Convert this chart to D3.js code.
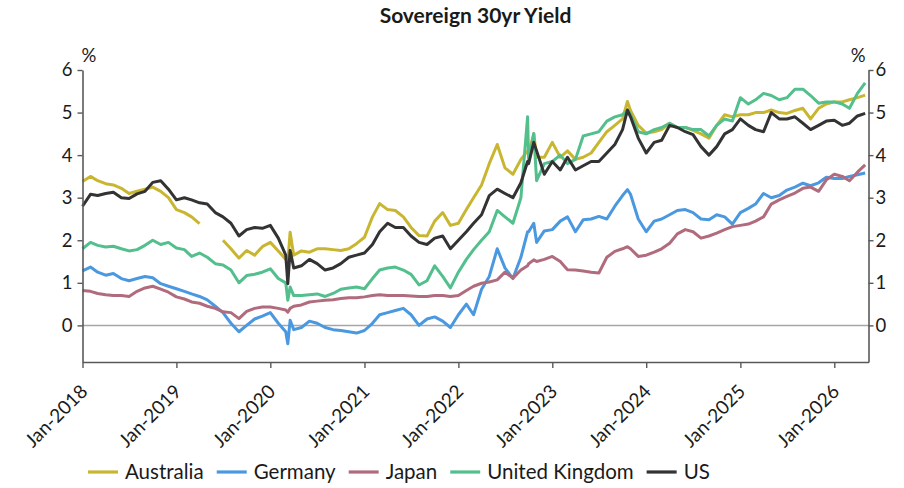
<!DOCTYPE html>
<html><head><meta charset="utf-8">
<script src="https://cdn.jsdelivr.net/npm/d3@7"></script>
<style>
body{margin:0;background:#fff}
svg{display:block}
text{font-family:Lato,"Open Sans",sans-serif;fill:#1a1a1a}
</style>
</head><body>
<svg id="chart" width="904" height="488"></svg>
<script>
// ---------------- data ----------------
const seriesNames = ["Australia", "Germany", "Japan", "United Kingdom", "US"];
const seriesColors = ["#c9b630", "#4a98e0", "#b06b7d", "#52bf8d", "#333333"];
const yTicks = [0, 1, 2, 3, 4, 5, 6];
const xTickYears = [2018, 2019, 2020, 2021, 2022, 2023, 2024, 2025, 2026];
// monthly observations: first of month, Jan-2018 .. May-2026 (101 points)
const firstMonth = "2018-01-01";
const monthCount = 101;
// extra intra-month observations around market spikes
const eventDates = ["2020-03-09", "2020-03-18", "2022-09-27", "2022-10-21", "2023-10-20"];

const australia = [3.38,3.50,3.40,3.33,3.30,3.22,3.10,3.15,3.20,3.25,
  3.15,3.00,2.72,2.65,2.55,2.39,null,null,2.00,1.80,
  1.58,1.76,1.65,1.85,1.95,1.75,1.55,1.65,1.75,1.72,
  1.80,1.80,1.78,1.76,1.80,1.92,2.07,2.55,2.86,2.72,
  2.70,2.55,2.30,2.11,2.10,2.45,2.65,2.35,2.40,2.72,
  3.00,3.30,3.80,4.25,3.70,3.55,3.90,4.05,3.95,3.95,
  4.30,3.95,4.10,3.90,3.95,4.05,4.30,4.55,4.70,4.85,
  5.05,4.70,4.52,4.55,4.60,4.75,4.65,4.65,4.58,4.50,
  4.40,4.70,4.95,4.90,4.95,4.95,5.00,5.00,5.06,5.00,
  4.98,5.05,5.10,4.85,5.10,5.20,5.25,5.25,5.30,5.35,5.41];
const australiaEvents = [1.50, 2.19, 4.10, 4.50, 5.26];

const germany = [1.28,1.37,1.25,1.18,1.22,1.10,1.05,1.10,1.15,1.12,
  0.98,0.92,0.86,0.80,0.74,0.68,0.60,0.45,0.30,0.05,
  -0.15,0.00,0.15,0.22,0.30,0.05,-0.15,-0.10,-0.05,0.10,
  0.05,-0.05,-0.10,-0.12,-0.15,-0.18,-0.12,0.05,0.25,0.30,
  0.35,0.40,0.25,0.00,0.15,0.20,0.10,-0.05,0.25,0.50,
  0.25,0.85,1.15,1.80,1.35,1.10,1.60,2.20,1.95,2.22,
  2.25,2.45,2.55,2.20,2.48,2.50,2.56,2.50,2.80,3.05,
  3.08,2.50,2.20,2.45,2.50,2.60,2.70,2.72,2.65,2.50,
  2.48,2.60,2.55,2.38,2.65,2.75,2.85,3.10,3.00,3.05,
  3.18,3.25,3.34,3.28,3.35,3.48,3.45,3.45,3.50,3.54,3.58];
const germanyEvents = [-0.43, 0.12, 2.20, 2.40, 3.19];

const japan = [0.82,0.80,0.75,0.72,0.70,0.70,0.68,0.80,0.88,0.92,
  0.85,0.78,0.67,0.62,0.55,0.52,0.45,0.40,0.32,0.30,
  0.16,0.33,0.40,0.43,0.43,0.40,0.36,0.45,0.48,0.55,
  0.57,0.59,0.60,0.63,0.65,0.65,0.67,0.70,0.72,0.70,
  0.70,0.70,0.69,0.68,0.68,0.70,0.70,0.68,0.70,0.82,
  0.92,0.99,1.02,1.07,1.25,1.11,1.30,1.45,1.50,1.55,
  1.62,1.50,1.31,1.30,1.28,1.25,1.23,1.60,1.74,1.80,
  1.80,1.62,1.65,1.72,1.80,1.93,2.15,2.25,2.20,2.05,
  2.10,2.17,2.25,2.32,2.35,2.38,2.45,2.55,2.85,2.95,
  3.03,3.11,3.22,3.25,3.15,3.42,3.55,3.50,3.40,3.60,3.77];
const japanEvents = [0.31, 0.40, 1.40, 1.54, 1.85];

const unitedKingdom = [1.80,1.95,1.88,1.84,1.86,1.80,1.75,1.78,1.88,2.00,
  1.90,1.95,1.82,1.78,1.62,1.70,1.60,1.45,1.42,1.30,
  1.00,1.17,1.20,1.25,1.33,1.10,1.00,0.70,0.70,0.72,
  0.74,0.68,0.75,0.85,0.88,0.90,0.86,1.10,1.30,1.35,
  1.37,1.30,1.20,0.95,1.05,1.40,1.15,0.88,1.25,1.55,
  1.78,2.00,2.20,2.70,2.55,2.40,3.00,3.85,3.40,3.80,
  3.85,4.00,3.80,3.90,4.45,4.50,4.55,4.80,4.90,4.95,
  4.95,4.55,4.50,4.60,4.65,4.75,4.65,4.65,4.60,4.60,
  4.45,4.70,4.85,4.80,5.35,5.20,5.30,5.45,5.40,5.30,
  5.35,5.55,5.55,5.40,5.22,5.25,5.25,5.20,5.10,5.45,5.70];
const unitedKingdomEvents = [0.59, 0.90, 4.90, 4.51, 5.06];

const us = [2.80,3.08,3.05,3.10,3.13,3.00,2.98,3.09,3.15,3.36,
  3.40,3.20,2.95,3.00,2.95,2.88,2.85,2.65,2.55,2.40,
  2.10,2.25,2.30,2.28,2.35,2.05,1.65,1.35,1.40,1.55,
  1.45,1.30,1.35,1.45,1.60,1.65,1.70,1.90,2.20,2.40,
  2.30,2.30,2.10,1.95,1.90,2.05,2.10,1.80,2.00,2.20,
  2.40,2.60,3.05,3.20,3.10,3.00,3.35,3.80,4.10,3.55,
  3.85,3.65,3.95,3.65,3.75,3.85,3.85,4.05,4.25,4.60,
  4.90,4.40,4.05,4.30,4.35,4.70,4.65,4.55,4.48,4.20,
  4.00,4.20,4.50,4.60,4.85,4.70,4.60,4.55,5.00,4.85,
  4.85,4.90,4.75,4.60,4.70,4.80,4.82,4.70,4.75,4.92,4.98];
const usEvents = [0.98, 1.76, 3.85, 4.30, 5.06];

// ---------------- build ----------------
const parse = d3.timeParse("%Y-%m-%d");
const monthDates = d3.range(monthCount).map(i => d3.timeMonth.offset(parse(firstMonth), i));
const eventParsed = eventDates.map(parse);
function build(monthly, events) {
  const pts = monthDates.map((d, i) => ({date: d, value: monthly[i]}))
    .concat(eventParsed.map((d, i) => ({date: d, value: events[i]})));
  return pts.sort((a, b) => a.date - b.date);
}
const seriesData = [
  build(australia, australiaEvents),
  build(germany, germanyEvents),
  build(japan, japanEvents),
  build(unitedKingdom, unitedKingdomEvents),
  build(us, usEvents)
];

const svg = d3.select("#chart");
const plot = {left: 82.5, right: 868.5, top: 70, bottom: 362};

const x = d3.scaleTime()
  .domain([parse("2018-01-01"), parse("2026-05-14")])
  .range([plot.left, plot.right]);
const y = d3.scaleLinear().domain([-0.86, 6]).range([plot.bottom, plot.top]);

const axisColor = "#595959";
const tickFont = "18.5px";

// title
svg.append("text")
  .attr("x", (plot.left + plot.right) / 2).attr("y", 23)
  .attr("text-anchor", "middle")
  .style("font-size", "21px").style("font-weight", "700")
  .text("Sovereign 30yr Yield");

// zero line
svg.append("line")
  .attr("x1", plot.left).attr("x2", plot.right)
  .attr("y1", y(0)).attr("y2", y(0))
  .attr("stroke", "#a6a6a6").attr("stroke-width", 1.5);

// lines
const line = d3.line()
  .defined(d => d.value != null)
  .x(d => x(d.date)).y(d => y(d.value));
seriesData.forEach((data, i) => {
  svg.append("path")
    .datum(data)
    .attr("fill", "none")
    .attr("stroke", seriesColors[i])
    .attr("stroke-width", 3)
    .attr("stroke-linejoin", "round")
    .attr("d", line);
});

function styleAxis(g) {
  g.select(".domain").attr("stroke", axisColor).attr("stroke-width", 1.6);
  g.selectAll(".tick line").attr("stroke", axisColor).attr("stroke-width", 1.4);
  g.selectAll(".tick text").attr("fill", "#1a1a1a")
    .style("font-family", "Lato, 'Open Sans', sans-serif")
    .style("font-size", tickFont);
}

// left axis
const gl = svg.append("g").attr("transform", `translate(${plot.left},0)`)
  .call(d3.axisLeft(y).tickValues(yTicks).tickSize(5).tickSizeOuter(0).tickPadding(5).tickFormat(d3.format("d")));
styleAxis(gl);

// right axis
const gr = svg.append("g").attr("transform", `translate(${plot.right},0)`)
  .call(d3.axisRight(y).tickValues(yTicks).tickSize(5).tickSizeOuter(0).tickPadding(2).tickFormat(d3.format("d")));
styleAxis(gr);

// bottom axis
const xTickDates = xTickYears.map(yr => new Date(yr, 0, 1));
const gb = svg.append("g").attr("transform", `translate(0,${plot.bottom})`)
  .call(d3.axisBottom(x).tickValues(xTickDates).tickSize(6).tickSizeOuter(0)
    .tickFormat(d3.timeFormat("%b-%Y")));
styleAxis(gb);
gb.selectAll(".tick text")
  .style("font-size", "19px")
  .attr("text-anchor", "end")
  .attr("dy", "0.35em")
  .attr("x", 0).attr("y", 0)
  .attr("transform", "translate(1,26) rotate(-45)");

// % labels
svg.append("text").attr("x", plot.left - 1).attr("y", 61.5).style("font-size", tickFont).text("%");
svg.append("text").attr("x", plot.right - 3).attr("y", 61.5).attr("text-anchor", "end")
  .style("font-size", tickFont).text("%");

// legend
const legend = svg.append("g");
let lx = 88;
const ly = 472;
seriesNames.forEach((name, i) => {
  legend.append("line")
    .attr("x1", lx).attr("x2", lx + 30).attr("y1", ly).attr("y2", ly)
    .attr("stroke", seriesColors[i]).attr("stroke-width", 3.2);
  const t = legend.append("text")
    .attr("x", lx + 37).attr("y", ly + 7)
    .style("font-size", "20.5px").text(name);
  lx += 37 + t.node().getComputedTextLength() + 13;
});
</script>
</body></html>
